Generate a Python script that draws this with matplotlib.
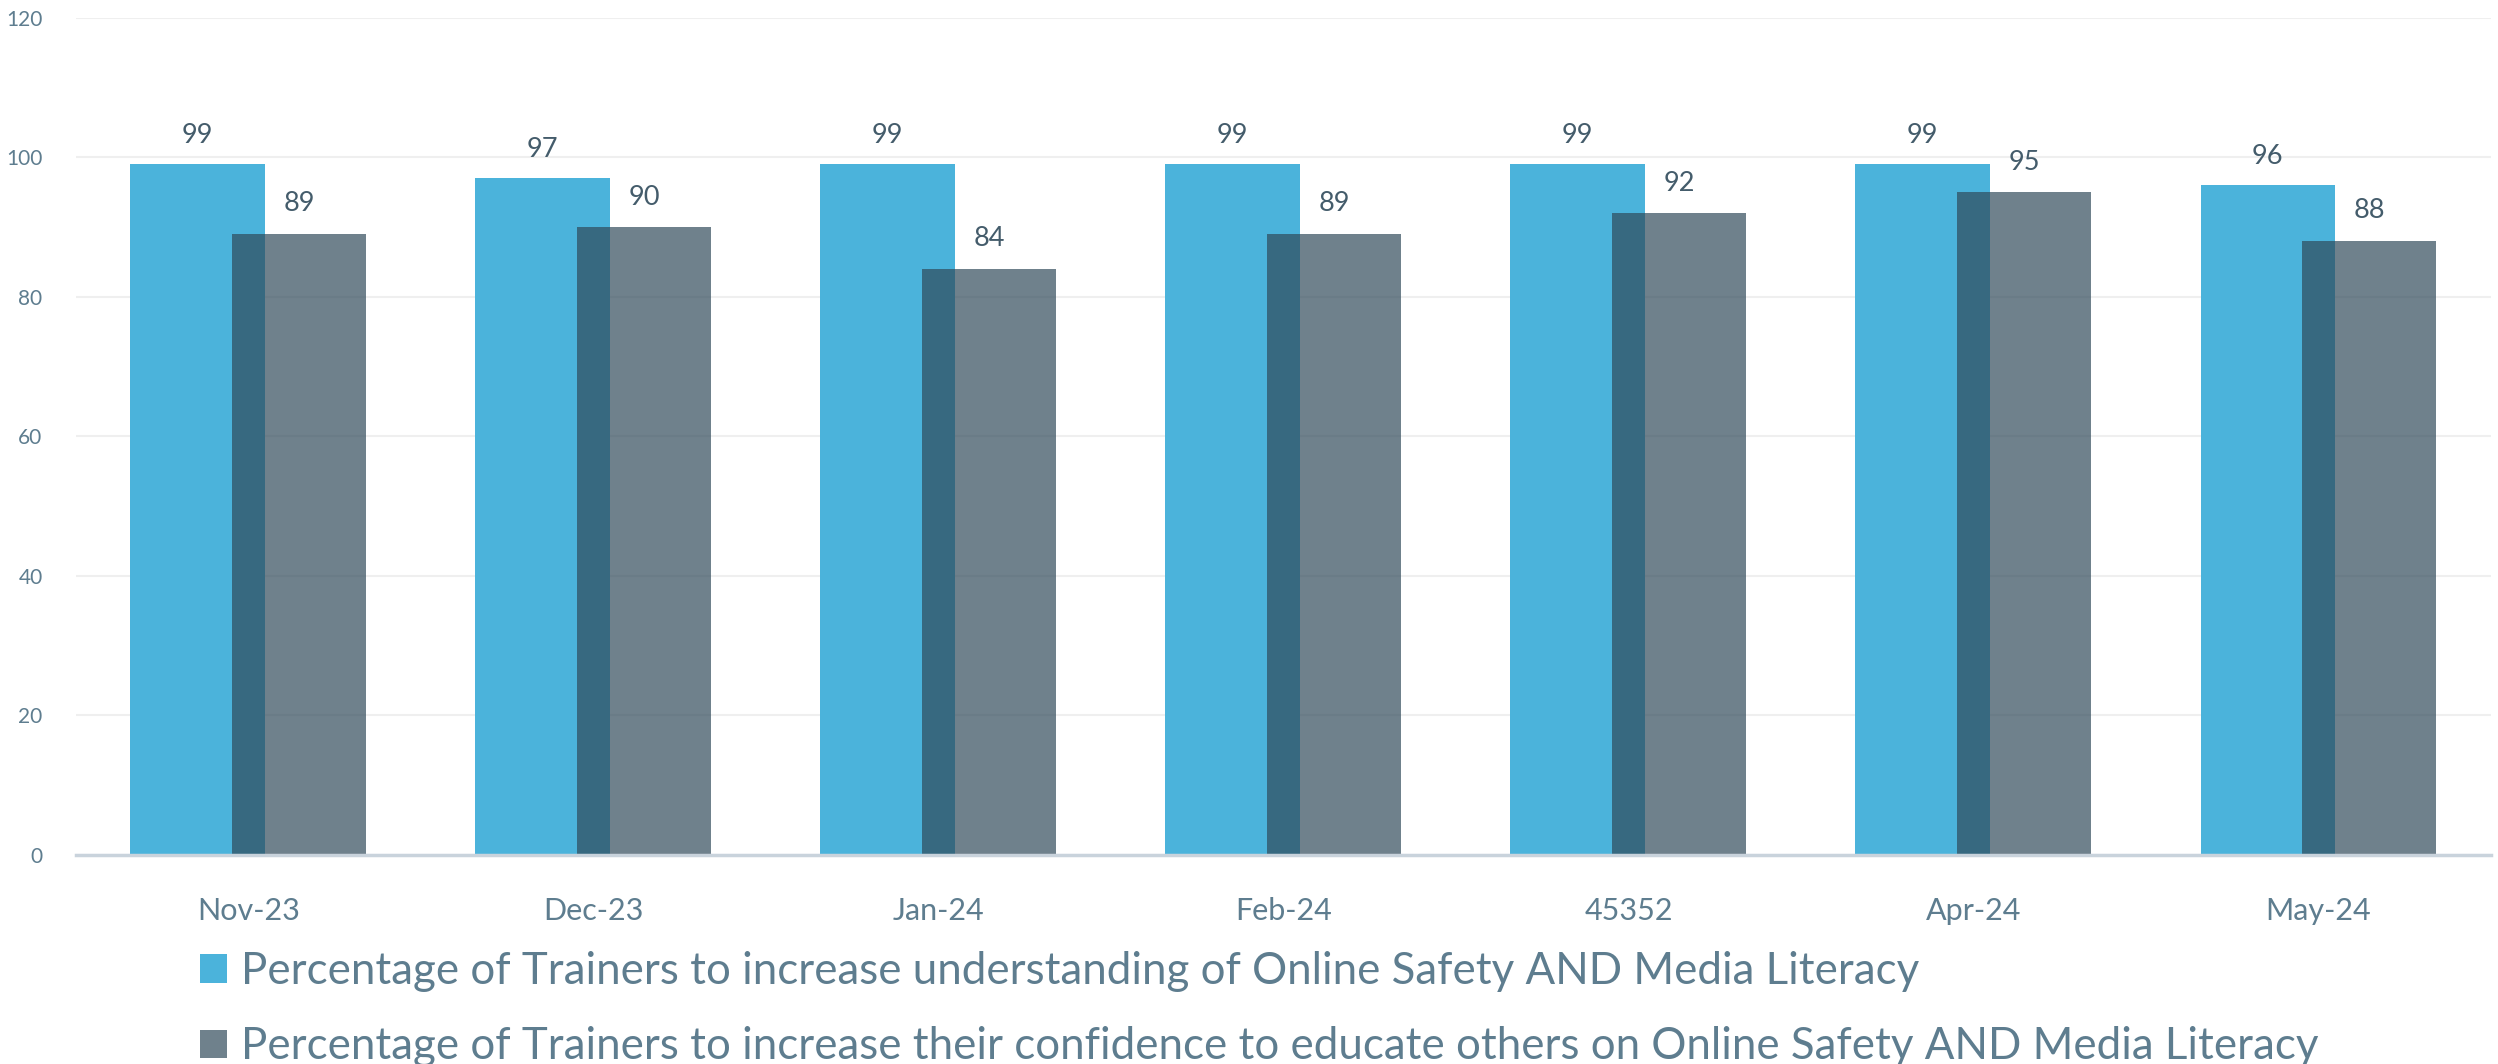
import numpy as np
import matplotlib
matplotlib.use("Agg")
import matplotlib.pyplot as plt

categories = ["Nov-23", "Dec-23", "Jan-24", "Feb-24", "45352", "Apr-24", "May-24"]
understanding = [99, 97, 99, 99, 99, 99, 96]
confidence = [89, 90, 84, 89, 92, 95, 88]
series_names = [
    "Percentage of Trainers to increase understanding of Online Safety AND Media Literacy",
    "Percentage of Trainers to increase their confidence to educate others on Online Safety AND Media Literacy",
]

plt.rcParams["font.family"] = ["Lato", "DejaVu Sans"]

blue = "#4BB3DB"
gray = "#2F4858"
tick_col = "#5E7D8F"
label_col = "#445C6B"

fig = plt.figure(figsize=(24.98, 10.64), dpi=100)
ax = fig.add_axes([0.0304, 0.1964, 0.9668, 0.787])

x = np.arange(len(categories))
w = 0.39
off = 0.147
b1 = ax.bar(x - off, understanding, w, color=blue, zorder=2)
b2 = ax.bar(x + off, confidence, w, color=gray, alpha=0.69, zorder=3)

for rect, v in zip(b1, understanding):
    ax.annotate(str(v), (rect.get_x() + rect.get_width() / 2, v), xytext=(0, 29),
                textcoords="offset pixels", ha="center", va="center",
                fontsize=19.5, color=label_col)
for rect, v in zip(b2, confidence):
    ax.annotate(str(v), (rect.get_x() + rect.get_width() / 2, v), xytext=(0, 30),
                textcoords="offset pixels", ha="center", va="center",
                fontsize=19.5, color=label_col)

ax.set_xlim(-0.5, len(categories) - 0.5)
ax.set_ylim(0, 120)
ax.set_yticks(range(0, 121, 20))
ax.set_xticks(x)
ax.set_xticklabels(categories)
ax.yaxis.grid(True, color="#EFEFEF", linewidth=1.5, zorder=0)
ax.set_axisbelow(True)
for s in ["top", "right", "left"]:
    ax.spines[s].set_visible(False)
ax.spines["bottom"].set_color("#C9D3DC")
ax.spines["bottom"].set_linewidth(2.5)
ax.spines["bottom"].set_zorder(4)
ax.tick_params(axis="x", length=0, pad=30, labelsize=22, labelcolor=tick_col)
ax.tick_params(axis="y", length=0, pad=24, labelsize=15, labelcolor=tick_col)

fig.legend([b1, b2], series_names, loc="upper left", bbox_to_anchor=(0.080, 0.106),
           frameon=False, fontsize=31.6, labelcolor=tick_col, handlelength=0.63,
           handleheight=0.63, handletextpad=0.3, labelspacing=0.78,
           borderpad=0, borderaxespad=0)

fig.savefig("out.png", dpi=100)
